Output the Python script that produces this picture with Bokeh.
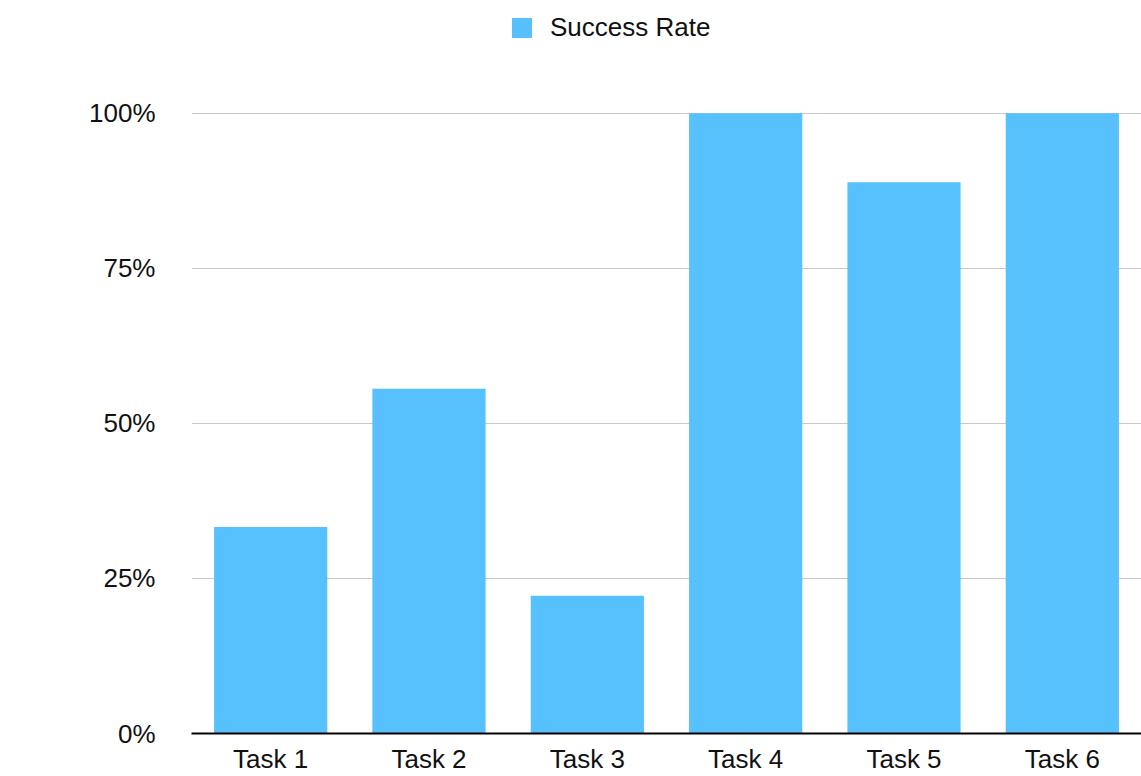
from bokeh.plotting import figure
from bokeh.models import ColumnDataSource, FactorRange, Range1d, FixedTicker, Legend, LegendItem
from bokeh.embed import file_html
from bokeh.resources import INLINE

tasks = ["Task 1", "Task 2", "Task 3", "Task 4", "Task 5", "Task 6"]
success_rate = [33.3, 55.6, 22.2, 100.0, 88.9, 100.0]
y_ticks = [0, 25, 50, 75, 100]
y_tick_labels = ["0%", "25%", "50%", "75%", "100%"]
series_name = "Success Rate"

FONT = "Liberation Sans"
BAR_COLOR = "#57C1FE"

src = ColumnDataSource(dict(task=tasks, rate=success_rate))

p = figure(width=1141, height=776, x_range=FactorRange(*tasks, range_padding=0),
           y_range=Range1d(0, 118.2), output_backend="svg", toolbar_location=None,
           min_border_left=191, min_border_right=0, min_border_top=0, min_border_bottom=43)
p.outline_line_color = None
p.background_fill_color = "white"
p.border_fill_color = "white"

r = p.vbar(x="task", top="rate", width=0.715, source=src, fill_color=BAR_COLOR,
           line_color=None)

# axes
p.yaxis.ticker = FixedTicker(ticks=y_ticks)
p.yaxis.major_label_overrides = {t: l for t, l in zip(y_ticks, y_tick_labels)}
p.yaxis.axis_line_color = None
p.yaxis.major_tick_line_color = None
p.yaxis.minor_tick_line_color = None
p.yaxis.major_label_standoff = 30
p.yaxis.major_label_text_font = FONT
p.yaxis.major_label_text_font_size = "26px"
p.yaxis.major_label_text_color = "#111111"

p.xaxis.axis_line_color = "black"
p.xaxis.axis_line_width = 2
p.xaxis.major_tick_line_color = None
p.xaxis.minor_tick_line_color = None
p.xaxis.major_label_standoff = 4
p.xaxis.major_label_text_font = FONT
p.xaxis.major_label_text_font_size = "26px"
p.xaxis.major_label_text_color = "#111111"

p.xgrid.grid_line_color = None
p.ygrid.grid_line_color = "#c8c8c8"
p.ygrid.grid_line_width = 1

legend = Legend(items=[LegendItem(label=series_name, renderers=[r])],
                location=(318, 690), orientation="horizontal",
                padding=0, margin=0, spacing=0, label_standoff=16,
                glyph_width=25, glyph_height=25, border_line_color=None,
                background_fill_alpha=0, label_text_font=FONT,
                label_text_font_size="26px", label_text_color="#111111")
p.add_layout(legend, "center")

open("out.html", "w").write(file_html(p, INLINE))
